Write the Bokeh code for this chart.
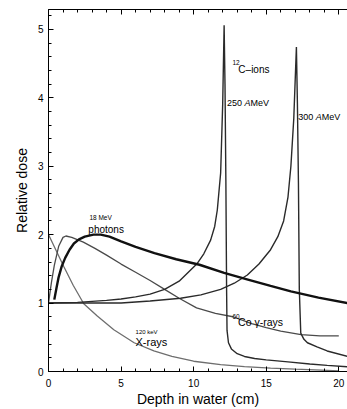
from bokeh.plotting import figure
from bokeh.models import Range1d, LinearAxis, SingleIntervalTicker, Label
from bokeh.embed import file_html
from bokeh.resources import INLINE

# ---------------- data ----------------
photon_x = [0.4, 0.55, 0.7, 0.9, 1.15, 1.45, 1.75, 2.1, 2.5, 3.1, 3.6, 4.2, 5.0, 6.0,
            7.3, 8.8, 10.4, 12.1, 13.8, 15.3, 16.7, 18.6, 20.6]
photon_y = [1.05, 1.22, 1.38, 1.53, 1.66, 1.78, 1.87, 1.93, 1.97, 2.00, 2.00, 1.97, 1.90, 1.82,
            1.73, 1.64, 1.56, 1.44, 1.34, 1.25, 1.17, 1.08, 1.00]

co_x = [0.0, 0.2, 0.4, 0.7, 1.0, 1.2, 1.6, 2.4, 3.2, 4.0, 5.0, 6.0, 7.0, 8.0, 9.0,
        10.2, 11.5, 12.7, 14.0, 15.0, 16.0, 17.4, 18.7, 20.0]
co_y = [1.00, 1.30, 1.55, 1.83, 1.96, 1.98, 1.96, 1.89, 1.80, 1.70, 1.57, 1.45, 1.33, 1.20, 1.07,
        0.93, 0.85, 0.80, 0.70, 0.64, 0.59, 0.54, 0.52, 0.52]

xray_x = [0.0, 0.5, 1.06, 1.7, 2.43, 3.36, 4.5, 5.9, 7.26, 8.5, 10.0, 11.86, 13.5, 15.3,
          17.0, 18.8, 20.0]
xray_y = [2.00, 1.78, 1.53, 1.26, 0.99, 0.81, 0.61, 0.42, 0.30, 0.22, 0.15, 0.10, 0.07, 0.05,
          0.035, 0.02, 0.01]

c250_x = [0.0, 2.0, 4.0, 5.0, 6.0, 7.0, 8.0, 9.0, 10.25, 10.7, 11.17, 11.45, 11.63, 11.86,
          12.0, 12.1, 12.16, 12.22, 12.27, 12.3, 12.4, 12.6, 13.0, 13.5, 14.2, 15.0, 16.5,
          18.0, 19.2, 20.6]
c250_y = [1.00, 1.01, 1.04, 1.06, 1.09, 1.13, 1.20, 1.32, 1.58, 1.72, 1.92, 2.12, 2.36, 2.90,
          3.90, 5.06, 4.20, 2.80, 1.20, 0.60, 0.42, 0.33, 0.26, 0.22, 0.19, 0.17, 0.14,
          0.11, 0.09, 0.07]

c300_x = [0.0, 3.0, 5.0, 7.0, 9.1, 10.5, 11.86, 12.8, 13.7, 14.5, 15.3, 15.8, 16.2, 16.5,
          16.7, 16.9, 17.08, 17.15, 17.22, 17.28, 17.38, 17.6, 17.84, 18.5, 19.2, 20.6]
c300_y = [1.00, 1.00, 1.00, 1.03, 1.07, 1.12, 1.20, 1.29, 1.41, 1.57, 1.78, 1.97, 2.20, 2.55,
          3.00, 3.70, 4.74, 3.90, 2.75, 1.20, 0.56, 0.47, 0.42, 0.36, 0.30, 0.22]

FONT = "Liberation Sans"

p = figure(width=347, height=409, output_backend="svg", toolbar_location=None,
           x_range=Range1d(0, 20.6), y_range=Range1d(0, 5.29),
           min_border_left=48, min_border_right=0, min_border_top=9, min_border_bottom=37)
p.outline_line_color = None
p.xgrid.visible = False
p.ygrid.visible = False
p.background_fill_color = "white"
p.border_fill_color = "white"

xt = SingleIntervalTicker(interval=5, num_minor_ticks=5)
yt = SingleIntervalTicker(interval=1, num_minor_ticks=5)
p.xaxis.ticker = xt
p.yaxis.ticker = yt

for ax in (p.xaxis[0], p.yaxis[0]):
    ax.major_tick_in = 5
    ax.major_tick_out = 0
    ax.minor_tick_in = 3
    ax.minor_tick_out = 0
    ax.axis_line_color = "black"
    ax.major_tick_line_color = "black"
    ax.minor_tick_line_color = "black"
    ax.major_label_text_font = FONT
    ax.major_label_text_font_size = "10px"
    ax.major_label_text_color = "black"
    ax.axis_label_text_font = FONT
    ax.axis_label_text_font_size = "14px"
    ax.axis_label_text_font_style = "normal"
    ax.axis_label_text_color = "black"

p.xaxis.axis_label = "Depth in water (cm)"
p.yaxis.axis_label = "Relative dose"
p.xaxis.major_label_standoff = 7
p.xaxis.axis_label_standoff = 1
p.yaxis.major_label_standoff = 5
p.yaxis.axis_label_standoff = 5

top = LinearAxis(ticker=SingleIntervalTicker(interval=5, num_minor_ticks=5),
                 major_tick_in=5, major_tick_out=0, minor_tick_in=3, minor_tick_out=0,
                 major_label_text_font_size="1px", major_label_text_color=None,
                 major_label_standoff=0,
                 axis_line_color="black", major_tick_line_color="black",
                 minor_tick_line_color="black")
p.add_layout(top, "above")

# curves
p.line(xray_x, xray_y, line_color="#6e6e6e", line_width=1.3)
p.line(co_x, co_y, line_color="#4a4a4a", line_width=1.3)
p.line(c300_x, c300_y, line_color="#2a2a2a", line_width=1.4)
p.line(c250_x, c250_y, line_color="#2a2a2a", line_width=1.4)
p.line(photon_x, photon_y, line_color="#111111", line_width=2.4)

def lab(x, y, text, size, style="normal", align="left", xo=0):
    p.add_layout(Label(x=x, y=y, text=text, text_font=FONT, text_font_size=size,
                       text_font_style=style, text_align=align, text_baseline="alphabetic",
                       text_color="black", x_offset=xo))

# 18 MeV photons
lab(3.59, 2.25, "18 MeV", "6.5px", align="center")
lab(3.97, 2.07, "photons", "10px", align="center")
# 12C-ions
lab(12.67, 4.52, "12", "6.5px")
lab(13.08, 4.41, "C\u2013ions", "10px")
# 250 AMeV
lab(12.3, 3.92, "250 ", "9px")
lab(12.3, 3.92, "A", "9px", style="italic", xo=17.5)
lab(12.3, 3.92, "MeV", "9px", xo=23.5)
# 300 AMeV
lab(17.2, 3.72, "300 ", "9px")
lab(17.2, 3.72, "A", "9px", style="italic", xo=17.5)
lab(17.2, 3.72, "MeV", "9px", xo=23.5)
# 60Co gamma-rays
lab(12.67, 0.80, "60", "6.5px")
lab(13.06, 0.72, "Co \u03b3-rays", "10.5px")
# 120 keV X-rays
lab(6.76, 0.57, "120 keV", "6px", align="center")
lab(7.09, 0.43, "X-rays", "11px", align="center")

open("out.html", "w").write(file_html(p, INLINE))
